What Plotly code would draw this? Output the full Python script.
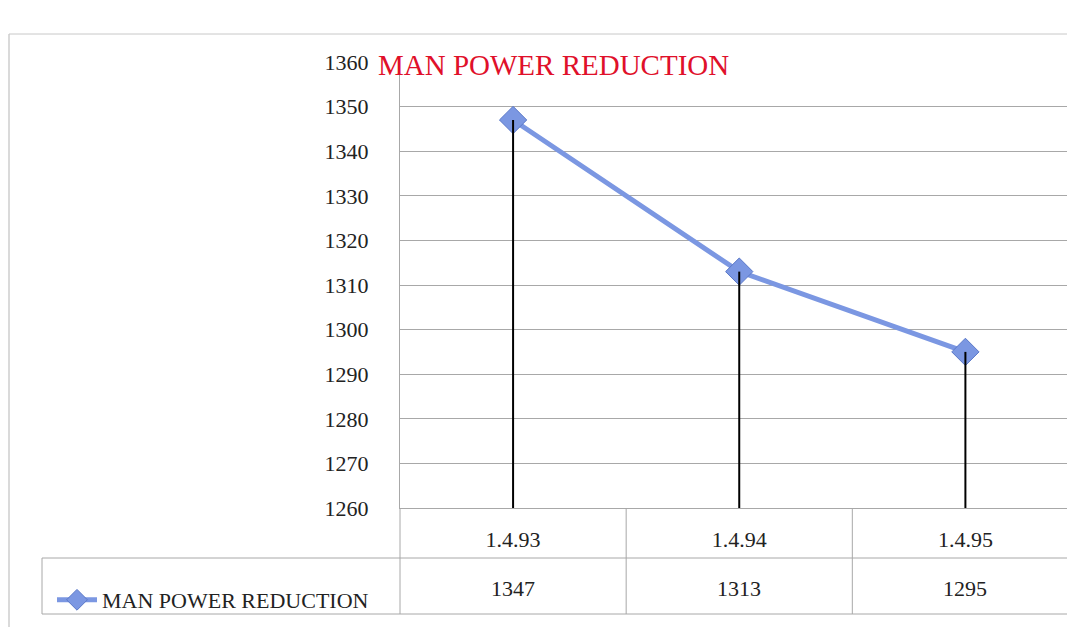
import plotly.graph_objects as go

dates = ["1.4.93", "1.4.94", "1.4.95"]
manpower = [1347, 1313, 1295]
series_name = "MAN POWER REDUCTION"
y_min, y_max = 1260, 1360

LINE_BLUE = "#7B97E2"
GRID = "#A8A8A8"
SERIF = "Liberation Serif, Times New Roman, serif"

# the page puts the figure 8px in from the top-left corner;
# plot area on screen: x 400..1083, y 62..508
PLOT_W, PLOT_H = 683.0, 446.0

def px(x):
    return (x - 400) / PLOT_W

def py(y):
    return (508 - y) / PLOT_H

fig = go.Figure()

fig.add_trace(go.Scatter(
    x=dates, y=manpower,
    mode="lines+markers",
    name=series_name,
    line=dict(color=LINE_BLUE, width=5),
    marker=dict(symbol="diamond", size=21, color=LINE_BLUE,
                line=dict(color="#5A78C8", width=1)),
))

# drop lines from each point down to the axis floor
drop_x, drop_y = [], []
for d, v in zip(dates, manpower):
    drop_x += [d, d, None]
    drop_y += [v, y_min, None]
fig.add_trace(go.Scatter(
    x=drop_x, y=drop_y, mode="lines",
    line=dict(color="black", width=2),
    showlegend=False, hoverinfo="skip",
))

# data table below the plot
row1_bottom, row2_bottom = 558, 614
shapes = [
    dict(type="line", xref="paper", yref="paper", x0=px(42), x1=px(1090),
         y0=py(row1_bottom), y1=py(row1_bottom), line=dict(color=GRID, width=1)),
    dict(type="line", xref="paper", yref="paper", x0=px(42), x1=px(1090),
         y0=py(row2_bottom), y1=py(row2_bottom), line=dict(color=GRID, width=1)),
    dict(type="line", xref="paper", yref="paper", x0=px(42), x1=px(42),
         y0=py(row1_bottom), y1=py(row2_bottom), line=dict(color=GRID, width=1)),
    dict(type="line", xref="paper", yref="paper", x0=0, x1=0,
         y0=0, y1=py(row2_bottom), line=dict(color=GRID, width=1)),
    # outer chart border
    dict(type="line", xref="paper", yref="paper", x0=px(9), x1=px(9),
         y0=py(34), y1=py(640), line=dict(color="#B5B5B5", width=1)),
    dict(type="line", xref="paper", yref="paper", x0=px(9), x1=px(1090),
         y0=py(34), y1=py(34), line=dict(color="#C8C8C8", width=1)),
]
for i in range(len(dates) - 1):
    shapes.append(dict(type="line", xref="x", yref="paper", x0=i + 0.5, x1=i + 0.5,
                       y0=0, y1=py(row2_bottom), line=dict(color=GRID, width=1)))

annotations = []
for d, v in zip(dates, manpower):
    annotations.append(dict(x=d, xref="x", y=py(588), yref="paper",
                            xanchor="center", yanchor="middle",
                            text=str(v), showarrow=False,
                            font=dict(family=SERIF, size=22, color="#222")))

fig.update_layout(
    width=1075, height=627,
    margin=dict(l=392, r=0, t=54, b=127),
    paper_bgcolor="white", plot_bgcolor="white",
    title=dict(text=series_name, xref="container", x=370 / 1075, xanchor="left",
               y=1 - 57 / 627, yanchor="middle",
               font=dict(family=SERIF, size=29, color="#E0102A")),
    showlegend=True,
    legend=dict(x=px(52), y=py(600), xanchor="left", yanchor="middle",
                font=dict(family=SERIF, size=22, color="#222"),
                bgcolor="rgba(0,0,0,0)", itemwidth=40),
    shapes=shapes,
    annotations=annotations,
    xaxis=dict(type="category", range=[-0.5, 2.52], showgrid=False,
               showline=True, linecolor=GRID, linewidth=1, zeroline=False,
               ticks="", ticklabelstandoff=12,
               tickfont=dict(family=SERIF, size=22, color="#222")),
    yaxis=dict(range=[y_min, y_max], dtick=10, showgrid=True, gridcolor=GRID,
               gridwidth=1, showline=True, linecolor=GRID, zeroline=False,
               ticks="", ticklabelstandoff=26,
               tickfont=dict(family=SERIF, size=22, color="#222")),
)

fig.write_html("out.html")
